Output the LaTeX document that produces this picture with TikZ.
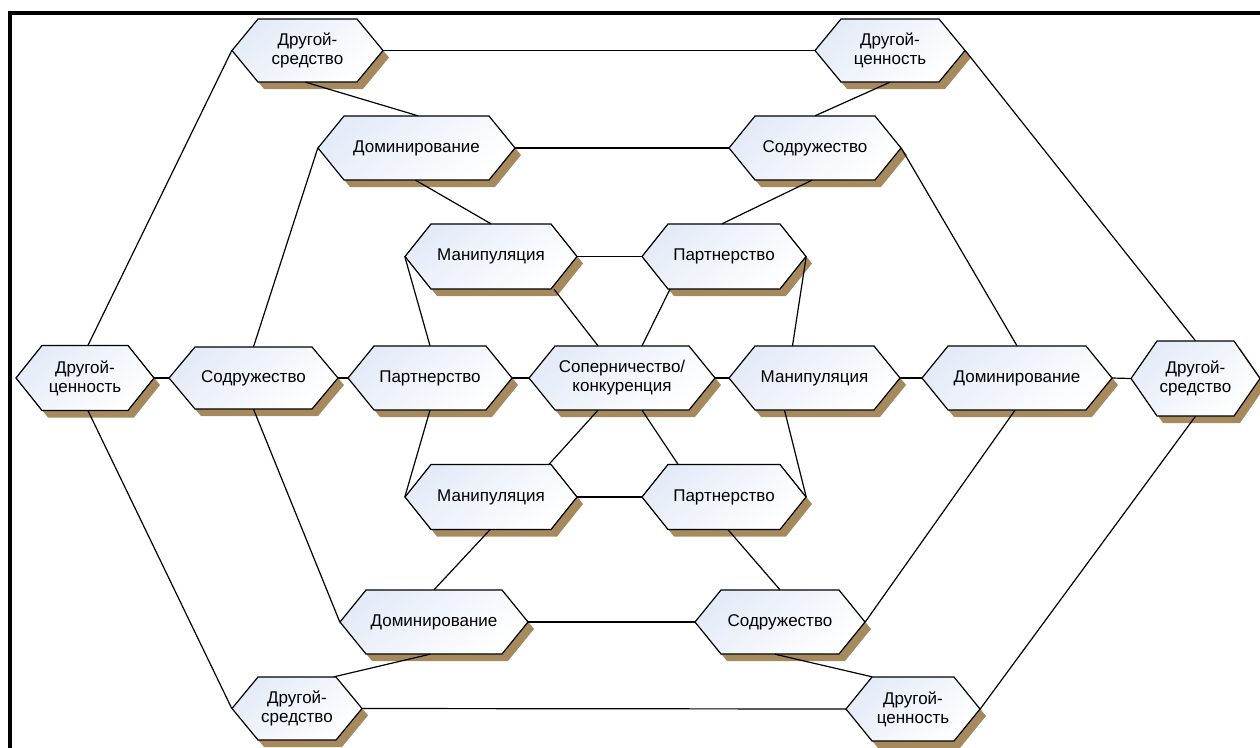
\documentclass[tikz,border=0pt]{standalone}
\usepackage{fontspec}
\setmainfont{Liberation Sans}
\definecolor{hexblue}{RGB}{228,235,248}
\definecolor{shadowc}{RGB}{166,138,94}
\tikzset{
  hexshadow/.style={fill=shadowc},
  hexbody/.style={draw=black, line width=1.2pt, line join=miter, top color=hexblue, bottom color=white, shading angle=40},
  hexlabel/.style={shape=rectangle, inner sep=0pt, align=center, font=\fontsize{17}{19}\selectfont},
  conn/.style={draw=black, line width=1.2pt},
  frame/.style={draw=black, line width=4pt}
}
% name, cx, cy, w, h, text
\newcommand\hexn[6]{%
  \path[hexshadow] ({#2-#4/2+6},{#3+7}) -- ({#2-#4/2+26+6},{#3-#5/2+7}) -- ({#2+#4/2-26+6},{#3-#5/2+7}) -- ({#2+#4/2+6},{#3+7}) -- ({#2+#4/2-26+6},{#3+#5/2+7}) -- ({#2-#4/2+26+6},{#3+#5/2+7}) -- cycle;
  \path[hexbody] ({#2-#4/2},{#3}) -- ({#2-#4/2+26},{#3-#5/2}) -- ({#2+#4/2-26},{#3-#5/2}) -- ({#2+#4/2},{#3}) -- ({#2+#4/2-26},{#3+#5/2}) -- ({#2-#4/2+26},{#3+#5/2}) -- cycle;
  \node[hexlabel, minimum width=#4pt, minimum height=#5pt] (#1) at (#2,#3) {#6};
}
\begin{document}
\begin{tikzpicture}[x=1pt,y=-1pt]
\useasboundingbox (0,0) rectangle (1260,747);
\draw[frame] (10,749) -- (10,13) -- (1262,13);

\hexn{tl}{307.5}{50.5}{151}{63}{Другой-\\средство}
\hexn{tr}{890}{50.5}{150}{63}{Другой-\\ценность}
\hexn{dt}{416.5}{148}{197}{64}{Доминирование}
\hexn{st}{815}{148}{172}{64}{Содружество}
\hexn{mu}{491}{256.5}{172}{65}{Манипуляция}
\hexn{pu}{724}{256.5}{164}{65}{Партнерство}
\hexn{lv}{85}{378}{138}{65}{Другой-\\ценность}
\hexn{sl}{253.5}{378}{169}{62}{Содружество}
\hexn{pl}{430}{378}{164}{64}{Партнерство}
\hexn{cc}{622}{378}{186}{64}{Соперничество/\\конкуренция}
\hexn{mr}{814.5}{378}{171}{64}{Манипуляция}
\hexn{dr}{1017}{378}{190}{64}{Доминирование}
\hexn{rs}{1195.5}{378.5}{129}{75}{Другой-\\средство}
\hexn{ml}{491}{497}{172}{65}{Манипуляция}
\hexn{pb}{724}{497}{164}{65}{Партнерство}
\hexn{db}{434}{622}{188}{64}{Доминирование}
\hexn{sb}{780}{622}{170}{64}{Содружество}
\hexn{bs}{297}{708.5}{130}{63}{Другой-\\средство}
\hexn{bv}{913}{709}{134}{64}{Другой-\\ценность}

% connectors
\draw[conn] (tl.west) -- ([xshift=3pt]lv.north);
\draw[conn] (tl.east) -- (tr.west);
\draw[conn] ([xshift=-2pt]tl.south) -- ([xshift=1.5pt]dt.north);
\draw[conn] (tr.south) -- (st.north);
\draw[conn] (tr.east) -- (rs.north);
\draw[conn] (dt.east) -- (st.west);
\draw[conn] (dt.west) -- (sl.north);
\draw[conn] ([xshift=-1pt]dt.south) -- (mu.north);
\draw[conn] ([xshift=-3pt]st.south) -- ([xshift=-2pt]pu.north);
\draw[conn] (st.east) -- (dr.north);
\draw[conn] (mu.east) -- (pu.west);
\draw[conn] (mu.west) -- (pl.north);
\draw[conn] ([xshift=63pt]mu.south) -- ([xshift=-24pt]cc.north);
\draw[conn] ([xshift=-54pt]pu.south) -- ([xshift=20pt]cc.north);
\draw[conn] (pu.east) -- ([xshift=-22pt]mr.north);
\draw[conn] (lv.east) -- (sl.west);
\draw[conn] (sl.east) -- (pl.west);
\draw[conn] (pl.east) -- (cc.west);
\draw[conn] (cc.east) -- (mr.west);
\draw[conn] (mr.east) -- (dr.west);
\draw[conn] (dr.east) -- (rs.west);
\draw[conn] (pl.south) -- (ml.west);
\draw[conn] ([xshift=-24pt]cc.south) -- ([xshift=58pt]ml.north);
\draw[conn] ([xshift=20pt]cc.south) -- ([xshift=-46pt]pb.north);
\draw[conn] ([xshift=-30pt]mr.south) -- (pb.east);
\draw[conn] (ml.east) -- (pb.west);
\draw[conn] ([xshift=-1pt]ml.south) -- (db.north);
\draw[conn] ([xshift=4pt]pb.south) -- (sb.north);
\draw[conn] (db.east) -- (sb.west);
\draw[conn] (sl.south) -- (db.west);
\draw[conn] (sb.east) -- ([xshift=-2pt]dr.south);
\draw[conn] ([xshift=-4pt]db.south) -- ([xshift=37pt]bs.north);
\draw[conn] ([xshift=-5pt]sb.south) -- ([xshift=-41pt]bv.north);
\draw[conn] (bs.west) -- ([xshift=3pt]lv.south);
\draw[conn] (bs.east) -- (bv.west);
\draw[conn] (bv.east) -- (rs.south);
\end{tikzpicture}
\end{document}
